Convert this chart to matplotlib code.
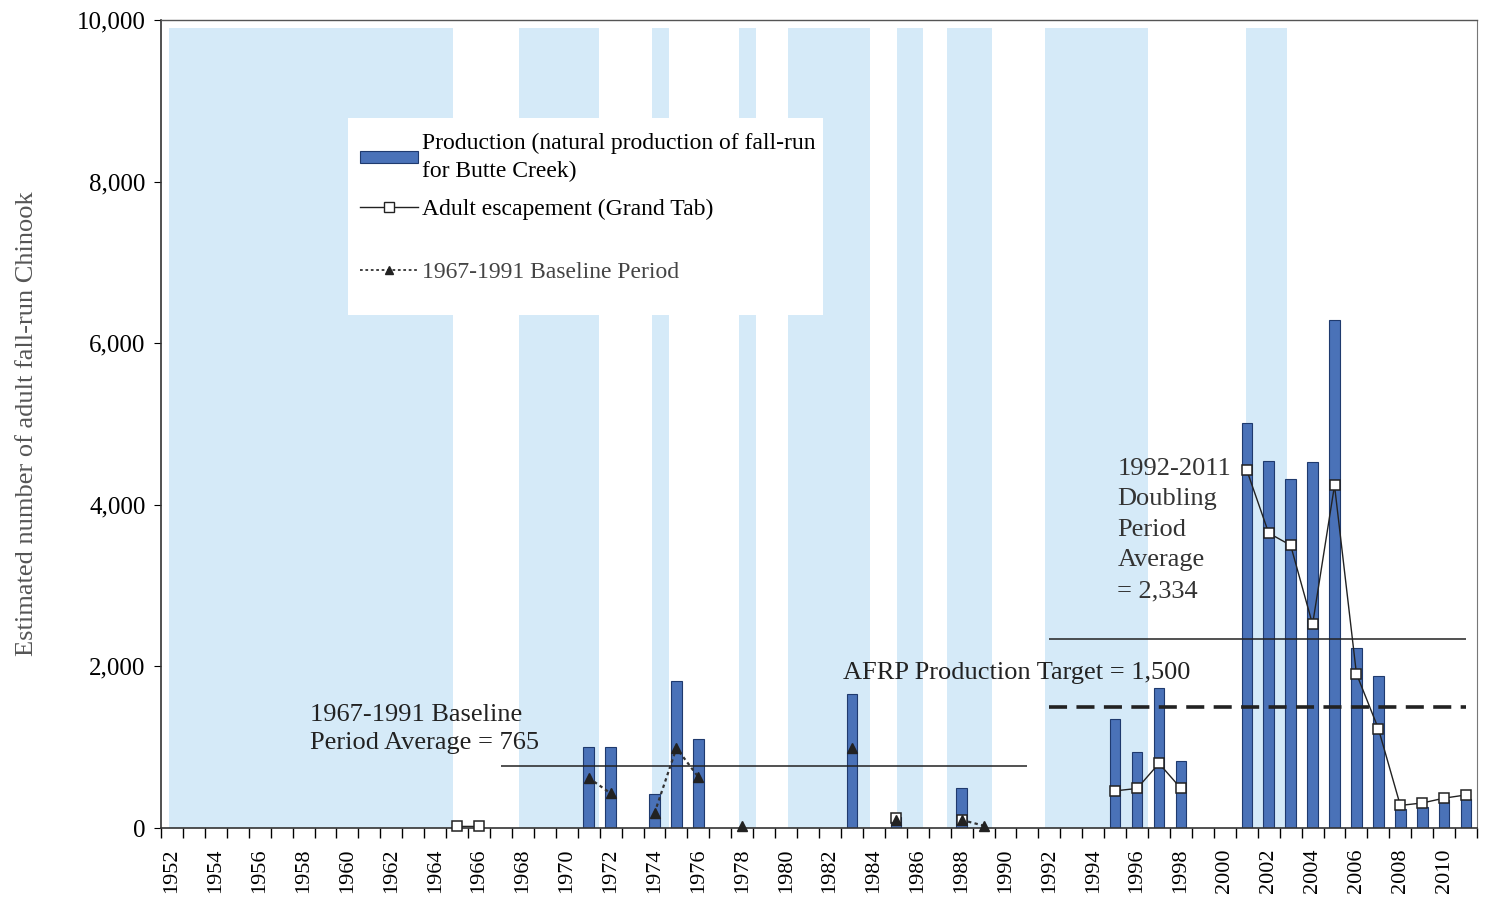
import numpy as np
import matplotlib
matplotlib.use('Agg')
import matplotlib.pyplot as plt
from matplotlib.patches import Rectangle
from matplotlib.lines import Line2D
from matplotlib.ticker import FuncFormatter, MultipleLocator

plt.rcParams['font.family'] = ['Liberation Serif', 'DejaVu Serif']

years = list(range(1952, 2012))

# natural production of fall-run for Butte Creek
prod_years = [1971, 1972, 1974, 1975, 1976, 1983, 1985, 1988, 1995, 1996, 1997, 1998,
              2001, 2002, 2003, 2004, 2005, 2006, 2007, 2008, 2009, 2010, 2011]
prod_values = [1000, 1000, 420, 1820, 1100, 1660, 140, 500, 1350, 940, 1730, 830,
               5010, 4540, 4320, 4530, 6290, 2230, 1880, 230, 260, 350, 360]

# adult escapement (Grand Tab)
esc_years = [1965, 1966, 1985, 1988, 1995, 1996, 1997, 1998,
             2001, 2002, 2003, 2004, 2005, 2006, 2007, 2008, 2009, 2010, 2011]
esc_values = [20, 20, 120, 100, 460, 490, 800, 490,
              4430, 3650, 3500, 2520, 4240, 1910, 1230, 280, 310, 370, 410]

# 1967-1991 baseline period
base_years = [1971, 1972, 1974, 1975, 1976, 1978, 1983, 1985, 1988, 1989]
base_values = [620, 430, 185, 990, 630, 30, 990, 100, 100, 30]

# shaded periods (start / end, in years)
wet_start = [1951.87, 1967.82, 1973.89, 1977.86, 1980.09, 1985.06, 1987.34, 1991.81, 2000.98]
wet_end = [1964.82, 1971.47, 1974.66, 1978.64, 1983.84, 1986.25, 1989.39, 1996.51, 2002.85]

baseline_avg = 765
doubling_avg = 2334
afrp_target = 1500


def to_series(yrs, vals):
    s = np.full(len(years), np.nan)
    for y, v in zip(yrs, vals):
        s[years.index(y)] = v
    return s


shade_color = '#d5eaf8'
bar_color = '#4a72b8'

fig = plt.figure(figsize=(14.89, 9.02), dpi=100)
ax = fig.add_axes([0.1081, 0.0820, 0.8839, 0.8958])

for s, e in zip(wet_start, wet_end):
    ax.axvspan(s, e, ymin=0, ymax=0.99, color=shade_color, lw=0, zorder=0)

# legend background box
ax.add_patch(Rectangle((0.142, 0.635), 0.361, 0.244, transform=ax.transAxes,
                       facecolor='white', edgecolor='none', zorder=1))

ax.bar(prod_years, prod_values, width=0.48, color=bar_color, edgecolor='#1f3a6e',
       linewidth=0.8, zorder=2)

ax.hlines(baseline_avg, 1967, 1991, color='#222222', lw=1.1, zorder=3)
ax.hlines(doubling_avg, 1992, 2011, color='#222222', lw=1.1, zorder=3)
ax.hlines(afrp_target, 1992, 2011, color='#222222', lw=2.6, linestyles=(0, (5, 2.6)), zorder=3)

ax.plot(years, to_series(base_years, base_values), color='#333333', lw=1.6,
        ls=(0, (1.5, 1.5)), marker='^', ms=7, mfc='#222222', mec='#222222',
        zorder=6, clip_on=False)
ax.plot(years, to_series(esc_years, esc_values), color='#222222', lw=1.0,
        marker='s', ms=7, mfc='white', mec='#222222', mew=1.1, zorder=5, clip_on=False)

ax.text(1958.3, 1540, '1967-1991 Baseline\nPeriod Average = 765', fontsize=19,
        ha='left', va='top', linespacing=1.38, color='#222222')
ax.text(1982.6, 1920, 'AFRP Production Target = 1,500', fontsize=19,
        ha='left', va='center', color='#222222')
ax.text(1995.1, 4580, '1992-2011\nDoubling\nPeriod\nAverage\n= 2,334', fontsize=19,
        ha='left', va='top', linespacing=1.5, color='#333333')

ax.set_xlim(1951.5, 2011.5)
ax.set_ylim(0, 10000)
ax.set_xticks(years[::2])
ax.set_xticklabels([str(y) for y in years[::2]], rotation=90, fontsize=16)
ax.xaxis.set_minor_locator(MultipleLocator(1, offset=0.5))
ax.tick_params(axis='x', which='major', length=0, pad=15)
ax.tick_params(axis='x', which='minor', length=7, width=1.0, direction='out')
ax.yaxis.set_major_locator(MultipleLocator(2000))
ax.yaxis.set_major_formatter(FuncFormatter(lambda v, p: f'{int(v):,}'))
ax.tick_params(axis='y', length=5, width=0.8, labelsize=18, pad=6)
ax.set_ylabel('Estimated number of adult fall-run Chinook', fontsize=19,
              color='#555555', labelpad=28)

for side in ['left', 'bottom']:
    ax.spines[side].set_linewidth(1.2)
    ax.spines[side].set_color('#333333')
ax.spines['top'].set_linewidth(1.0)
ax.spines['top'].set_color('#555555')
ax.spines['right'].set_linewidth(0.8)
ax.spines['right'].set_color('#777777')

h1 = [Rectangle((0, 0), 1, 1, facecolor=bar_color, edgecolor='#1f3a6e', lw=0.8),
      Line2D([], [], color='#222222', lw=1.0, marker='s', ms=7, mfc='white', mec='#222222')]
leg1 = ax.legend(h1, ['Production (natural production of fall-run\nfor Butte Creek)',
                      'Adult escapement (Grand Tab)'],
                 loc='upper left', bbox_to_anchor=(0.151, 0.860), frameon=False,
                 fontsize=17, handlelength=2.45, handleheight=0.45, handletextpad=0.2,
                 labelspacing=0.7, borderpad=0, borderaxespad=0)
leg1.get_texts()[0].set_linespacing(1.4)
ax.add_artist(leg1)
h2 = [Line2D([], [], color='#333333', lw=1.3, ls=(0, (1.5, 1.5)), marker='^', ms=6,
             mfc='#222222', mec='#222222')]
leg2 = ax.legend(h2, ['1967-1991 Baseline Period'], loc='upper left',
                 bbox_to_anchor=(0.151, 0.701), frameon=False, fontsize=17,
                 handlelength=2.45, handletextpad=0.2, borderpad=0, borderaxespad=0,
                 labelcolor='#444444')

fig.savefig('out.png', dpi=100)
